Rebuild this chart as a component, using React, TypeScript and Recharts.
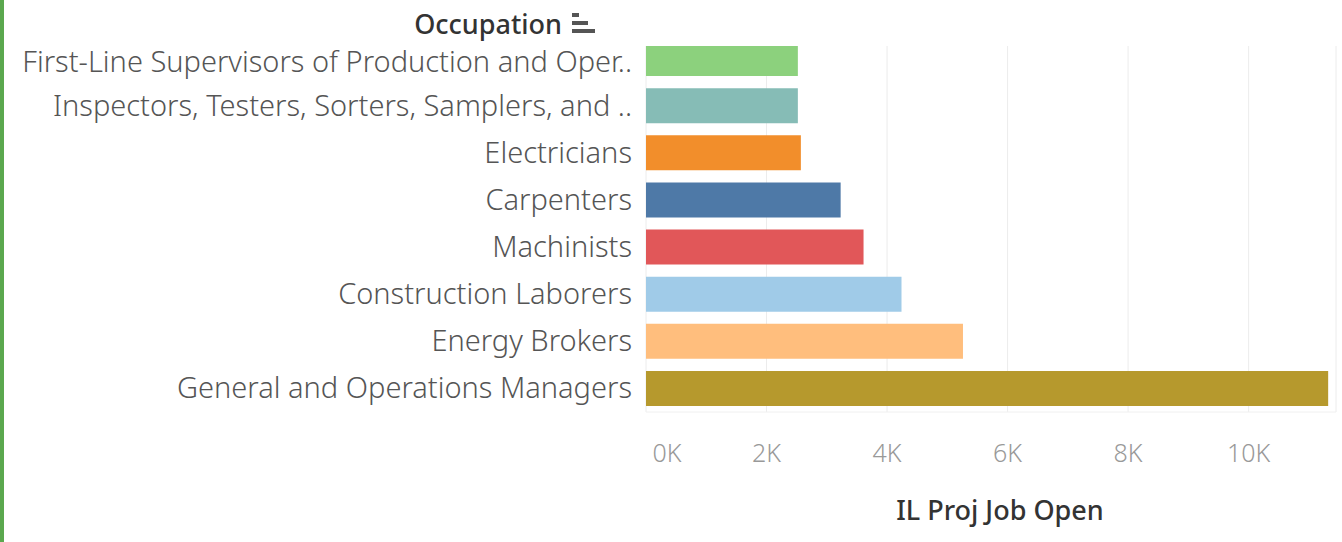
import { BarChart, Bar, XAxis, YAxis, CartesianGrid, Cell } from "recharts";

const occupations = [
  "First-Line Supervisors of Production and Oper..",
  "Inspectors, Testers, Sorters, Samplers, and ..",
  "Electricians",
  "Carpenters",
  "Machinists",
  "Construction Laborers",
  "Energy Brokers",
  "General and Operations Managers",
];
const jobOpenings = [2520, 2520, 2570, 3230, 3610, 4240, 5260, 11320];
const barColors = ["#8CD17D", "#86BCB6", "#F28E2B", "#4E79A7", "#E15759", "#A0CBE8", "#FFBE7D", "#B6992D"];
const xTicks = [0, 2000, 4000, 6000, 8000, 10000];

const data = occupations.map((name, i) => ({ name, value: jobOpenings[i] }));

const FONT = "'Noto Sans', sans-serif";

function CategoryTick(props: any) {
  const { x, y, payload, index } = props;
  return (
    <text x={x} y={y} dy={index === 0 ? 13 : 10} textAnchor="end" fontSize={29} fontWeight={300} fill="#555" fontFamily={FONT}>
      {payload.value}
    </text>
  );
}

function ValueTick(props: any) {
  const { x, y, payload, index } = props;
  return (
    <text x={index === 0 ? x + 21 : x} y={y} dy={42} textAnchor="middle" fontSize={25} fontWeight={300} fill="#999" fontFamily={FONT}>
      {payload.value / 1000 + "K"}
    </text>
  );
}

export default function App() {
  return (
    <div style={{ position: "absolute", left: 0, top: 0, width: 1342, height: 542, background: "#fff", fontFamily: FONT }}>
      <div style={{ position: "absolute", left: 0, top: 0, width: 4, height: 542, background: "#5BA84E" }} />
      <BarChart
        width={1342}
        height={542}
        data={data}
        layout="vertical"
        margin={{ top: 35, right: 6, bottom: 70, left: 0 }}
        barSize={35}
      >
        <CartesianGrid horizontal={false} stroke="#ececec" />
        <XAxis
          type="number"
          domain={[0, 11450]}
          ticks={xTicks}
          height={60}
          axisLine={{ stroke: "#f0f0f0" }}
          tickLine={false}
          tick={<ValueTick />}
        />
        <YAxis
          type="category"
          dataKey="name"
          width={646}
          axisLine={false}
          tickLine={false}
          tickMargin={8}
          tick={<CategoryTick />}
        />
        <Bar dataKey="value" isAnimationActive={false}>
          {data.map((d, i) => (
            <Cell key={d.name} fill={barColors[i]} />
          ))}
        </Bar>
      </BarChart>
      {/* header strip clips the top of the pane like the original */}
      <div style={{ position: "absolute", left: 640, top: 0, width: 702, height: 46, background: "#fff" }} />
      <div style={{ position: "absolute", right: 780, top: 12, fontSize: 27, fontWeight: 500, color: "#333", lineHeight: "24px" }}>
        Occupation
      </div>
      <div style={{ position: "absolute", left: 572, top: 13 }}>
        <div style={{ width: 7, height: 4, background: "#555", marginBottom: 4 }} />
        <div style={{ width: 16, height: 4, background: "#555", marginBottom: 4 }} />
        <div style={{ width: 23, height: 4, background: "#555" }} />
      </div>
      <div style={{ position: "absolute", left: 880, width: 240, textAlign: "center", top: 491, fontSize: 27, fontWeight: 500, color: "#333", lineHeight: "38px" }}>
        IL Proj Job Open
      </div>
    </div>
  );
}
